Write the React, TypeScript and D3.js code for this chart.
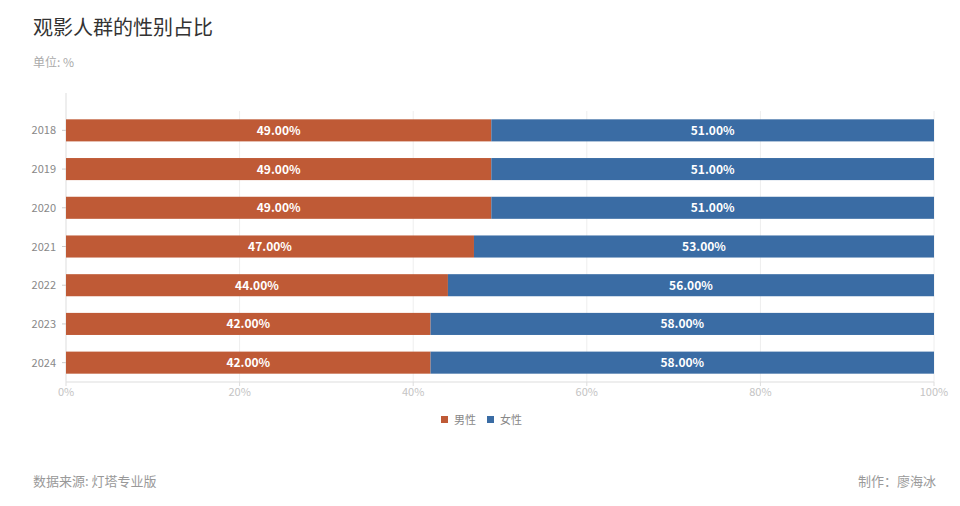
import React from "react";
import * as d3 from "d3";

const years = ["2018", "2019", "2020", "2021", "2022", "2023", "2024"];
const male = [49, 49, 49, 47, 44, 42, 42];
const female = [51, 51, 51, 53, 56, 58, 58];
const xTicks = [0, 20, 40, 60, 80, 100];
const seriesNames = ["男性", "女性"];
const colors = ["#BF5A36", "#3A6CA4"];

const W = 960, H = 506;
const left = 66, right = 934, top = 111, bottom = 382;
const font = "'Noto Sans CJK SC', 'Noto Sans', sans-serif";

export default function App() {
  const x = d3.scaleLinear().domain([0, 100]).range([left, right]);
  const y = d3.scaleBand().domain(years).range([top, bottom]).paddingInner(0.43).paddingOuter(0.215);
  const bh = y.bandwidth();
  return (
    <svg width={W} height={H} style={{ position: "absolute", left: 0, top: 0, background: "#fff" }} fontFamily={font}>
      <text x={33} y={35} fontSize={20} fill="#333">观影人群的性别占比</text>
      <text x={33} y={67} fontSize={12} fill="#aaa">单位: %</text>
      {xTicks.map((t) => (
        <g key={t}>
          {t > 0 && <line x1={x(t)} x2={x(t)} y1={top} y2={bottom} stroke="#eee" />}
          <line x1={x(t)} x2={x(t)} y1={bottom} y2={bottom + 4} stroke="#ddd" />
          <text x={x(t)} y={bottom + 14} fontSize={11} fill="#c4c4c4" textAnchor="middle">{t}%</text>
        </g>
      ))}
      <line x1={left} x2={right} y1={bottom} y2={bottom} stroke="#ddd" />
      <line x1={left} x2={left} y1={top - 18} y2={bottom} stroke="#ddd" />
      {years.map((yr, i) => {
        const yy = y(yr)!;
        const cy = yy + bh / 2;
        return (
          <g key={yr}>
            <line x1={left - 4} x2={left} y1={cy} y2={cy} stroke="#ccc" />
            <text x={left - 10} y={cy + 4} fontSize={11} fill="#888" textAnchor="end">{yr}</text>
            <rect x={x(0)} y={yy} width={x(male[i]) - x(0)} height={bh} fill={colors[0]} />
            <rect x={x(male[i])} y={yy} width={x(male[i] + female[i]) - x(male[i])} height={bh} fill={colors[1]} />
            <text x={(x(0) + x(male[i])) / 2} y={cy + 4.5} fontSize={12} fontWeight="bold" fill="#fff" textAnchor="middle">{male[i].toFixed(2)}%</text>
            <text x={(x(male[i]) + x(male[i] + female[i])) / 2} y={cy + 4.5} fontSize={12} fontWeight="bold" fill="#fff" textAnchor="middle">{female[i].toFixed(2)}%</text>
          </g>
        );
      })}
      {seriesNames.map((n, i) => (
        <g key={n} transform={`translate(${441 + i * 46},${416})`}>
          <rect x={0} y={0} width={7} height={7} fill={colors[i]} />
          <text x={13} y={8} fontSize={11} fill="#888">{n}</text>
        </g>
      ))}
      <text x={33} y={486} fontSize={13} fill="#999">数据来源: 灯塔专业版</text>
      <text x={936} y={486} fontSize={13} fill="#999" textAnchor="end">制作：廖海冰</text>
    </svg>
  );
}
